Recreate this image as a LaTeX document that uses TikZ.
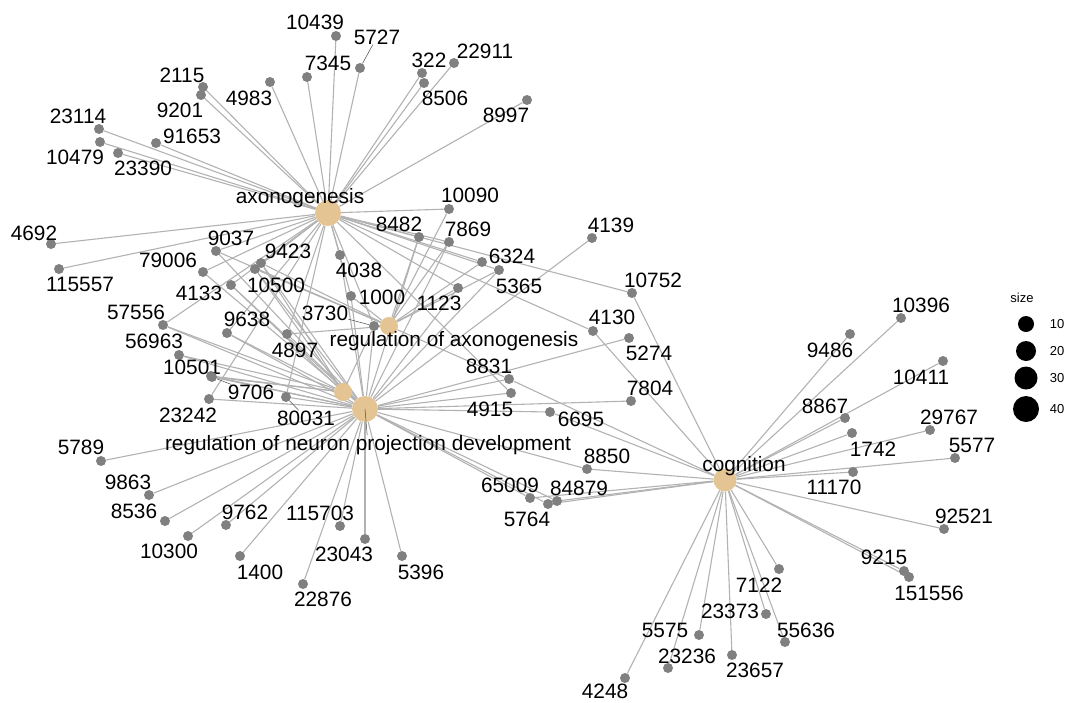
\documentclass[tikz,border=0pt]{standalone}
\usepackage{fontspec}
\setmainfont{Liberation Sans}
\usepackage{tikz}
\usetikzlibrary{backgrounds}

\begin{document}
\begin{tikzpicture}[
    x=1pt, y=-1pt,
    gene/.style={circle, fill=black!50, inner sep=0pt, minimum size=10pt},
    cat/.style={circle, fill=catcol, inner sep=0pt},
    lab/.style={inner sep=0pt, font=\fontsize{20.8}{21}\selectfont},
    keytext/.style={inner sep=0pt, font=\fontsize{13}{13}\selectfont},
    keydot/.style={circle, fill=black, inner sep=0pt},
    edge/.style={draw=black!30, line width=1.1pt},
    leader/.style={draw=black!70, line width=0.5pt}
]
    \definecolor{catcol}{HTML}{E5C494}
    \useasboundingbox (0,0) rectangle (1066,702);

    % Category nodes
    \node[cat, minimum size=26pt] (axo) at (328,213) {};
    \node[cat, minimum size=18pt] (regaxo) at (389,326) {};
    \node[cat, minimum size=18pt] (unk) at (343,392) {};
    \node[cat, minimum size=26pt] (regnpd) at (365,409) {};
    \node[cat, minimum size=23pt] (cog) at (725,480) {};

    \node[lab] (laxo) at (300,198) {axonogenesis};
    \node[lab] (lregaxo) at (454,341) {regulation of axonogenesis};
    \node[lab] (lregnpd) at (368,445) {regulation of neuron projection development};
    \node[lab] (lcog) at (744,466) {cognition};

    % Genes: name/x/y/label x/label y
    \foreach \n/\x/\y/\lx/\ly in {
        10439/336/36/315/22, 7345/307/77/328/63, 5727/360/68/377/37,
        2115/203/87/182/75, 9201/201/95/180/110, 4983/270/82/249/98,
        23114/99/129/78/116, 10479/100/142/75/157, 23390/118/153/143/168,
        91653/156/143/192/136, 322/422/73/429/60, 8506/424/83/445/98,
        22911/454/63/485/51, 8997/527/100/506/115, 4692/51/244/34/233,
        115557/59/269/80/284}
        {\node[gene] (g\n) at (\x,\y) {};
         \node[lab] (l\n) at (\lx,\ly) {\n};}

    \foreach \n/\x/\y/\lx/\ly in {
        10090/449/209/470/195, 8482/419/237/399/224, 7869/449/242/468/229,
        4139/592/238/611/225, 6324/482/262/512/256, 5365/499/270/519/286,
        1123/458/288/439/303, 10752/632/293/653/280, 4130/593/331/612/317,
        5274/629/338/649/353, 8831/509/379/489/366, 4915/511/393/490/409,
        7804/631/401/650/388, 6695/550/412/581/419, 4038/340/255/359/270,
        1000/351/296/382/297, 3730/374/326/325/313, 9037/216/251/231/238,
        9423/261/263/288/251, 10500/255/269/276/285, 79006/203/272/168/260,
        4133/231/285/199/293, 57556/163/325/136/312, 9638/227/333/247/319,
        56963/179/355/154/341, 4897/287/334/295/350, 10501/211/376/192/367,
        9706/212/377/251/392, 23242/209/399/188/415, 80031/286/397/306/418}
        {\node[gene] (g\n) at (\x,\y) {};
         \node[lab] (l\n) at (\lx,\ly) {\n};}

    \foreach \n/\x/\y/\lx/\ly in {
        5789/101/461/81/447, 9863/149/495/128/482, 8536/165/521/134/511,
        10300/188/536/169/551, 9762/226/525/245/512, 1400/240/556/260/572,
        115703/340/526/320/513, 23043/365/539/344/554, 22876/303/584/323/599,
        5396/402/556/421/572, 8850/587/469/607/456, 65009/530/498/510/485,
        84879/557/501/579/488, 5764/548/504/527/519}
        {\node[gene] (g\n) at (\x,\y) {};
         \node[lab] (l\n) at (\lx,\ly) {\n};}

    \foreach \n/\x/\y/\lx/\ly in {
        10396/901/318/921/305, 9486/850/334/830/350, 10411/943/361/921/377,
        8867/845/418/825/406, 1742/852/433/873/449, 29767/930/430/949/417,
        5577/955/458/972/445, 11170/853/472/834/487, 92521/944/529/964/516,
        9215/904/571/884/557, 151556/909/577/929/593, 7122/779/569/759/585,
        23373/766/614/730/611, 23657/732/655/755/670, 55636/785/642/806/630,
        5575/699/635/665/630, 23236/668/668/687/656, 4248/625/678/605/691}
        {\node[gene] (g\n) at (\x,\y) {};
         \node[lab] (l\n) at (\lx,\ly) {\n};}

    % Edges
    \begin{scope}[on background layer]
    \foreach \g in {10439,7345,5727,2115,9201,4983,23114,10479,23390,91653,
        322,8506,22911,8997,4692,115557,10090,8482,7869,6324,5365,1123,10752,
        4130,4038,1000,3730,9037,9423,10500,79006,4133,57556,9638,4897,23242,
        80031,4915}
        \draw[edge] (axo) -- (g\g);
    \foreach \g in {10090,8482,7869,6324,5365,1123,1000,3730,9037,9423,10500,
        4897,8831}
        \draw[edge] (regaxo) -- (g\g);
    \foreach \g in {8482,7869,5365,1123,4139,5274,7804,8831,4915,6695,4038,
        1000,3730,9037,9423,10500,79006,4133,57556,9638,56963,4897,10501,9706,
        23242,80031,5789,9863,8536,10300,9762,1400,115703,23043,22876,5396,
        8850,65009,84879,5764}
        \draw[edge] (regnpd) -- (g\g);
    \foreach \g in {9423,10500,4133,57556,9638,56963,10501,9706,3730}
        \draw[edge] (unk) -- (g\g);
    \foreach \g in {10752,4130,8831,6695,8850,65009,84879,5764,10396,9486,
        10411,8867,1742,29767,5577,11170,92521,9215,151556,7122,23373,23657,
        55636,5575,23236,4248}
        \draw[edge] (cog) -- (g\g);
    \end{scope}

    % Label leaders
    \draw[leader] (l5727) -- (g5727);
    \draw[leader] (l3730) -- (g3730);
    \draw[leader] (l9706) -- (g9706);
    \draw[leader] (l80031) -- (g80031);
    \draw[leader] (lregnpd) -- (regnpd.center);

    % Legend
    \node[keytext] (ksize) at (1022,298) {size};
    \node[keydot, minimum size=16pt] (k10) at (1026,324) {};
    \node[keydot, minimum size=20pt] (k20) at (1026,351) {};
    \node[keydot, minimum size=23pt] (k30) at (1026,378) {};
    \node[keydot, minimum size=26pt] (k40) at (1026,409) {};
    \node[keytext] (lk10) at (1057,324) {10};
    \node[keytext] (lk20) at (1057,351) {20};
    \node[keytext] (lk30) at (1057,378) {30};
    \node[keytext] (lk40) at (1057,409) {40};
\end{tikzpicture}
\end{document}
